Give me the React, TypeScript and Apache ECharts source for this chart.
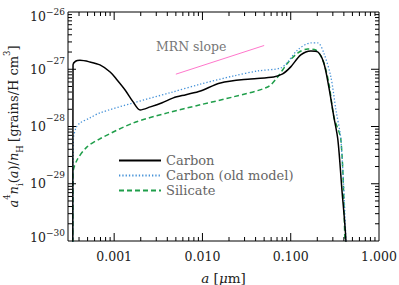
import React, { useEffect, useRef } from "react";
import * as echarts from "echarts";

// ---- data ----
const carbonA = [0.00034, 0.000342, 0.000365, 0.00041, 0.00053, 0.00069, 0.0009, 0.00108, 0.00133, 0.00164, 0.00197, 0.00257, 0.0035, 0.00468, 0.0065, 0.0095, 0.016, 0.0351, 0.0641, 0.0811, 0.1, 0.13, 0.169, 0.203, 0.237, 0.27, 0.308, 0.342, 0.38, 0.422, 0.43];
const carbonV = [1e-31, 1.2e-27, 1.38e-27, 1.43e-27, 1.34e-27, 1.19e-27, 8.97e-28, 6.5e-28, 4.35e-28, 2.69e-28, 1.95e-28, 2.2e-28, 2.6e-28, 3.16e-28, 3.6e-28, 4.18e-28, 5.77e-28, 6.78e-28, 7.35e-28, 8.28e-28, 1.1e-27, 1.78e-27, 2.09e-27, 2.0e-27, 1.29e-27, 4.9e-28, 1.48e-28, 5.9e-29, 7.9e-30, 1e-30, 1e-31];

const oldA = [0.00034, 0.000345, 0.00037, 0.00041, 0.00053, 0.00069, 0.00164, 0.00433, 0.0095, 0.0225, 0.0422, 0.0769, 0.0924, 0.12, 0.169, 0.203, 0.237, 0.285, 0.325, 0.37, 0.422, 0.43];
const oldV = [1e-31, 6e-29, 9.5e-29, 1.15e-28, 1.41e-28, 1.73e-28, 2.58e-28, 3.9e-28, 5.5e-28, 7.64e-28, 9.33e-28, 1.05e-27, 1.34e-27, 2.18e-27, 2.88e-27, 2.88e-27, 1.92e-27, 7.35e-28, 1.95e-28, 5.9e-29, 1e-30, 1e-31];

const silA = [0.00034, 0.000342, 0.00038, 0.00049, 0.00069, 0.00164, 0.004, 0.0095, 0.0225, 0.0548, 0.0711, 0.0924, 0.12, 0.156, 0.192, 0.231, 0.27, 0.308, 0.37, 0.411, 0.42];
const silV = [1e-31, 1.55e-29, 2.6e-29, 4.36e-29, 6.1e-29, 1.15e-28, 1.73e-28, 2.4e-28, 3.3e-28, 4.9e-28, 7.35e-28, 1.29e-27, 1.92e-27, 2.26e-27, 2.17e-27, 1.45e-27, 5.76e-28, 1.48e-28, 5.9e-29, 1e-30, 1e-31];

const mrnA = [0.005, 0.05];
const mrnV = [8.2e-28, 2.6e-27];

const seriesNames = ["Carbon", "Carbon (old model)", "Silicate"];
const xRange = [0.0003, 1];
const yRange = [1e-30, 1e-26];
const xMajor = [0.001, 0.01, 0.1, 1];
const yMajor = [1e-30, 1e-29, 1e-28, 1e-27, 1e-26];

const FONT = "DejaVu Serif";
const MAJOR_LEN = 8;
const MINOR_LEN = 4;

function pairs(a: number[], v: number[]) {
  return a.map((x, i) => [x, v[i]]);
}

function minorLog(lo: number, hi: number) {
  const out: number[] = [];
  const l0 = Math.floor(Math.log10(lo));
  const l1 = Math.ceil(Math.log10(hi));
  for (let n = l0; n < l1; n++) {
    for (let k = 2; k <= 9; k++) {
      const v = k * Math.pow(10, n);
      if (v > lo * 1.0001 && v < hi * 0.9999) out.push(v);
    }
  }
  return out;
}

function expText(v: number) {
  const e = Math.round(Math.log10(v));
  return (e < 0 ? "\u2212" : "") + Math.abs(e);
}

const labelRich = {
  b: { fontFamily: FONT, fontSize: 12.5, fill: "#222", color: "#222", lineHeight: 26 },
  s: { fontFamily: FONT, fontSize: 9, fill: "#222", color: "#222", verticalAlign: "top", lineHeight: 10 },
  bt: { fontFamily: FONT, fontSize: 12.5, fill: "#222", color: "#222", lineHeight: 26, padding: [8, 0, 0, 0] },
  st: { fontFamily: FONT, fontSize: 9, fill: "#222", color: "#222", verticalAlign: "top", lineHeight: 10, padding: [8, 0, 0, 0] },
  bb: { fontFamily: FONT, fontSize: 12.5, fill: "#222", color: "#222", lineHeight: 26, padding: [0, 0, 8, 0] },
};

export default function App() {
  const ref = useRef<HTMLDivElement>(null);
  useEffect(() => {
    if (!ref.current) return;
    const chart = echarts.init(ref.current, null, { renderer: "svg" });
    const xTicks = [
      ...xMajor.filter((v) => v > xRange[0] && v < xRange[1]).map((v) => [v, MAJOR_LEN]),
      ...minorLog(xRange[0], xRange[1]).map((v) => [v, MINOR_LEN]),
    ];
    const yTicks = [
      ...yMajor.filter((v) => v > yRange[0] && v < yRange[1]).map((v) => [MAJOR_LEN, v]),
      ...minorLog(yRange[0], yRange[1]).map((v) => [MINOR_LEN, v]),
    ];
    const tickStyle = { stroke: "#000", lineWidth: 1 };
    const isMajorX = (v: number) => xMajor.some((m) => Math.abs(v / m - 1) < 1e-6);
    const isMin = (v: number) => Math.abs(v / yRange[0] - 1) < 1e-6;
    const isMax = (v: number) => Math.abs(v / yRange[1] - 1) < 1e-6;
    const option: any = {
      animation: false,
      grid: {
        left: 68,
        right: 20,
        top: 12,
        bottom: 44,
        containLabel: false,
        outerBoundsMode: "none",
        show: true,
        borderColor: "#000",
        borderWidth: 1,
        backgroundColor: "transparent",
      },
      legend: {
        data: seriesNames,
        orient: "vertical",
        left: 113,
        top: 149,
        itemWidth: 42,
        itemHeight: 10,
        itemGap: 2,
        selectedMode: false,
        itemStyle: { opacity: 0 },
        textStyle: { fontFamily: FONT, fontSize: 13, color: "#666" },
      },
      xAxis: {
        type: "log",
        min: xRange[0],
        max: xRange[1],
        position: "bottom",
        axisLine: { show: false, onZero: false },
        axisTick: { show: false },
        minorTick: { show: false },
        splitLine: { show: false },
        axisLabel: {
          margin: 9,
          hideOverlap: false,
          fontFamily: FONT,
          fontSize: 12.5,
          color: "#222",
          formatter: (v: number) => (isMajorX(v) ? v.toFixed(3) : ""),
        },
        name: "{i|a} [{i|μ}m]",
        nameLocation: "middle",
        nameGap: 30,
        nameMoveOverlap: false,
        nameTextStyle: {
          fontFamily: FONT,
          fontSize: 13.5,
          color: "#222",
          rich: { i: { fontFamily: FONT, fontStyle: "italic", fontSize: 13.5, color: "#222" } },
        },
      },
      yAxis: {
        type: "log",
        min: yRange[0],
        max: yRange[1],
        position: "left",
        axisLine: { show: false, onZero: false },
        axisTick: { show: false },
        minorTick: { show: false },
        splitLine: { show: false },
        axisLabel: {
          margin: 3,
          showMaxLabel: true,
          hideOverlap: false,
          formatter: (v: number) => {
            if (isMin(v)) return "";
            if (isMax(v)) return "{bt|10}{st|" + expText(v) + "}";
            return "{b|10}{s|" + expText(v) + "}";
          },
          rich: labelRich,
        },
        name:
          "{i|a}{sup|4}{i|n}{sub|i}{t|(}{i|a}{t|)/}{i|n}{sub|H} {t|[grains/H cm}{sup|3}{t|]}",
        nameLocation: "middle",
        nameRotate: 90,
        nameGap: 44,
        nameMoveOverlap: false,
        nameTextStyle: {
          rich: {
            i: { fontFamily: FONT, fontStyle: "italic", fontSize: 13, color: "#222", lineHeight: 22 },
            t: { fontFamily: FONT, fontSize: 13, color: "#222", lineHeight: 22 },
            sup: { fontFamily: FONT, fontSize: 8.5, color: "#222", verticalAlign: "top", lineHeight: 10 },
            sub: { fontFamily: FONT, fontSize: 8.5, color: "#222", verticalAlign: "bottom", lineHeight: 10 },
          },
        },
      },
      graphic: [
        {
          type: "text",
          left: 156,
          top: 40,
          style: { text: "MRN slope", fontFamily: FONT, fontSize: 12.5, fill: "#777" },
        },
      ],
      series: [
        {
          name: seriesNames[0],
          type: "line",
          data: pairs(carbonA, carbonV),
          symbol: "none",
          smooth: 0.3,
          lineStyle: { color: "#000", width: 1.5, type: "solid" },
          itemStyle: { color: "#000" },
          z: 5,
        },
        {
          name: seriesNames[1],
          type: "line",
          data: pairs(oldA, oldV),
          symbol: "none",
          smooth: 0.3,
          lineStyle: { color: "#4592d8", width: 1.3, type: [1.3, 2] },
          itemStyle: { color: "#4592d8" },
          z: 4,
        },
        {
          name: seriesNames[2],
          type: "line",
          data: pairs(silA, silV),
          symbol: "none",
          smooth: 0.3,
          lineStyle: { color: "#1f9e4a", width: 1.5, type: [5, 3] },
          itemStyle: { color: "#1f9e4a" },
          z: 3,
        },
        {
          name: "MRN",
          type: "line",
          data: pairs(mrnA, mrnV),
          symbol: "none",
          lineStyle: { color: "#ff77cc", width: 1 },
          itemStyle: { color: "#ff77cc" },
        },
        {
          name: "xticks",
          type: "custom",
          silent: true,
          clip: false,
          data: xTicks,
          renderItem: (_p: any, api: any) => {
            const v = api.value(0);
            const len = api.value(1);
            const pb = api.coord([v, yRange[0]]);
            const pt = api.coord([v, yRange[1]]);
            return {
              type: "group",
              children: [
                { type: "line", shape: { x1: pb[0], y1: pb[1], x2: pb[0], y2: pb[1] - len }, style: tickStyle },
                { type: "line", shape: { x1: pt[0], y1: pt[1], x2: pt[0], y2: pt[1] + len }, style: tickStyle },
              ],
            };
          },
          z: 10,
        },
        {
          name: "yticks",
          type: "custom",
          silent: true,
          clip: false,
          data: yTicks,
          renderItem: (_p: any, api: any) => {
            const len = api.value(0);
            const v = api.value(1);
            const pl = api.coord([xRange[0], v]);
            const pr = api.coord([xRange[1], v]);
            return {
              type: "group",
              children: [
                { type: "line", shape: { x1: pl[0], y1: pl[1], x2: pl[0] + len, y2: pl[1] }, style: tickStyle },
                { type: "line", shape: { x1: pr[0], y1: pr[1], x2: pr[0] - len, y2: pr[1] }, style: tickStyle },
              ],
            };
          },
          z: 10,
        },
        {
          name: "yminlabel",
          type: "custom",
          silent: true,
          clip: false,
          data: [[xRange[0], yRange[0]]],
          renderItem: (_p: any, api: any) => {
            const p = api.coord([api.value(0), api.value(1)]);
            return {
              type: "text",
              x: p[0] - 3,
              y: p[1],
              style: {
                text: "{bb|10}{s|" + expText(api.value(1)) + "}",
                rich: labelRich,
                align: "right",
                verticalAlign: "middle",
                fill: "#222",
              },
            };
          },
          z: 10,
        },
      ],
    };
    chart.setOption(option);
    return () => chart.dispose();
  }, []);
  return <div ref={ref} style={{ width: 399, height: 285, position: "absolute", left: 0, top: 0 }} />;
}
